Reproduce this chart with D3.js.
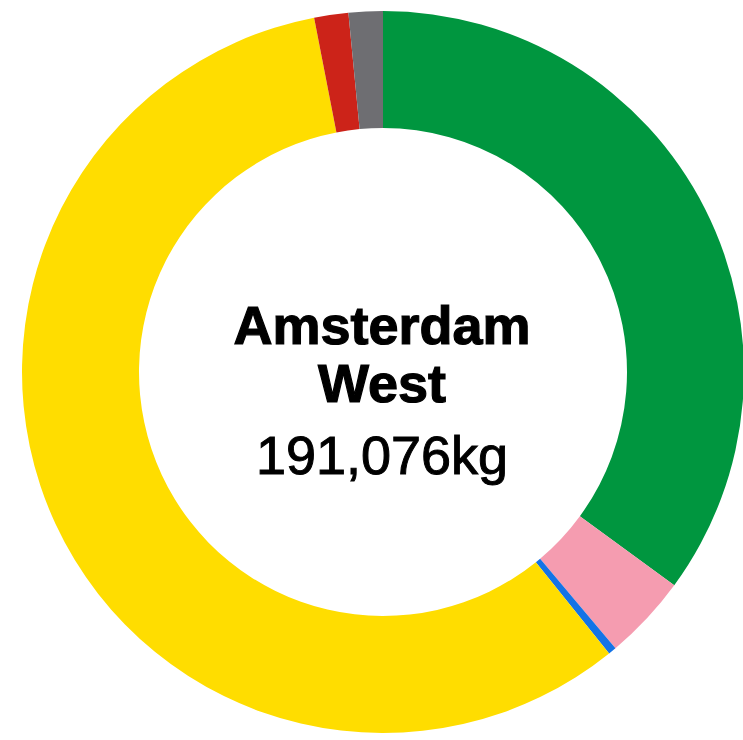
<!DOCTYPE html>
<html>
<head>
<meta charset="utf-8">
<script src="https://cdn.jsdelivr.net/npm/d3@7"></script>
<style>
  html, body { margin: 0; padding: 0; background: #ffffff; }
  svg { display: block; }
</style>
</head>
<body>
<svg id="chart" width="743" height="740"></svg>
<script>
// Data (kg), clockwise from 12 o'clock
const categories = ["Groen", "Roze", "Blauw", "Geel", "Rood", "Grijs"];
const values = [66990, 7272, 690, 110284, 2920, 2920];
const colors = ["#00963f", "#f59cb0", "#1473e6", "#ffdd00", "#cc2319", "#6e6e72"];
const titleLines = ["Amsterdam", "West"];
const totalLabel = "191,076kg";

const svg = d3.select("#chart");
const cx = 383, cy = 372, outerR = 361, innerR = 244;

const data = categories.map((c, i) => ({ name: c, value: values[i], color: colors[i] }));

const pie = d3.pie().sort(null).value(d => d.value).startAngle(0).endAngle(2 * Math.PI);
const arc = d3.arc().innerRadius(innerR).outerRadius(outerR);

const g = svg.append("g").attr("transform", `translate(${cx},${cy})`);
g.selectAll("path.slice")
  .data(pie(data))
  .join("path")
  .attr("class", "slice")
  .attr("d", arc)
  .attr("fill", d => d.data.color);

const font = "'Liberation Sans', Arial, sans-serif";
g.append("text")
  .attr("x", -1).attr("y", 344 - cy)
  .attr("text-anchor", "middle")
  .attr("font-family", font).attr("font-weight", 700).attr("font-size", 54)
  .attr("fill", "#000").attr("stroke", "#000").attr("stroke-width", 1.2)
  .text(titleLines[0]);
g.append("text")
  .attr("x", -1).attr("y", 402 - cy)
  .attr("text-anchor", "middle")
  .attr("font-family", font).attr("font-weight", 700).attr("font-size", 54)
  .attr("fill", "#000").attr("stroke", "#000").attr("stroke-width", 1.2)
  .text(titleLines[1]);
g.append("text")
  .attr("x", -1).attr("y", 474 - cy)
  .attr("text-anchor", "middle")
  .attr("font-family", font).attr("font-weight", 400).attr("font-size", 54)
  .attr("fill", "#000").attr("stroke", "#000").attr("stroke-width", 1)
  .text(totalLabel);
</script>
</body>
</html>
